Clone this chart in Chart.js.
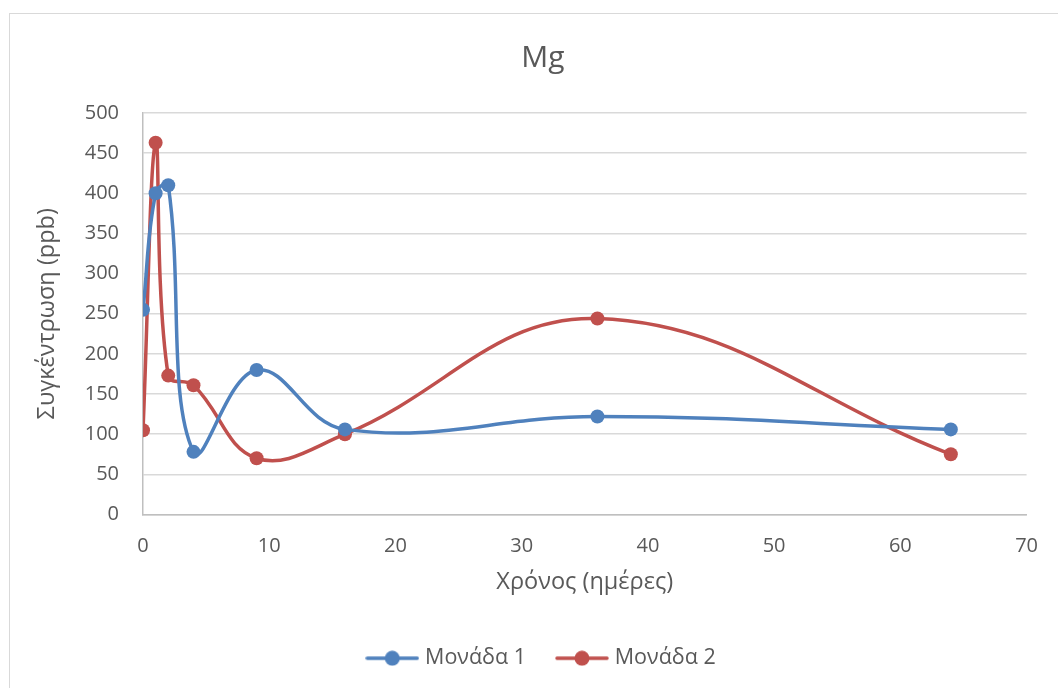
<!DOCTYPE html>
<html>
<head>
<meta charset="utf-8">
<script src="https://cdn.jsdelivr.net/npm/chart.js@4"></script>
<style>
  html, body { margin: 0; padding: 0; background: #fff; overflow: hidden; }
  #wrap { position: relative; width: 1058px; height: 688px; }
  #frame { position: absolute; left: 9px; top: 13px; width: 1200px; height: 900px; border: 1px solid #d9d9d9; }
  #wrap canvas { position: absolute; left: 0; top: 0; }
</style>
</head>
<body>
<div id="wrap">
  <div id="frame"></div>
  <canvas id="mgChart" width="1058" height="688"></canvas>
</div>
<script>
// sampling days and Mg concentration (ppb) for the two units
var days = [0, 1, 2, 4, 9, 16, 36, 64];
var unit1 = [255, 400, 410, 78, 180, 106, 122, 106];
var unit2 = [105, 463, 173, 161, 70, 100, 244, 75];
var seriesNames = ['Μονάδα 1', 'Μονάδα 2'];
var seriesColors = ['#4F81BD', '#C0504D'];
var xTicks = [0, 10, 20, 30, 40, 50, 60, 70];
var yTicks = [0, 50, 100, 150, 200, 250, 300, 350, 400, 450, 500];

var FONT = '"Open Sans", "Noto Sans", sans-serif';
var TEXT = '#595959';

function points(xs, ys) {
    return xs.map(function (x, i) { return { x: x, y: ys[i] }; });
}

// small line-with-marker swatch used in the legend
function swatch(color) {
    var c = document.createElement('canvas');
    c.width = 54;
    c.height = 16;
    var g = c.getContext('2d');
    g.strokeStyle = color;
    g.lineWidth = 3.5;
    g.lineCap = 'round';
    g.beginPath();
    g.moveTo(2, 8);
    g.lineTo(52, 8);
    g.stroke();
    g.fillStyle = color;
    g.beginPath();
    g.arc(27, 8, 7.5, 0, Math.PI * 2);
    g.fill();
    return c;
}
var swatches = seriesColors.map(swatch);

var series = [unit1, unit2].map(function (vals, i) {
    return {
        label: seriesNames[i],
        data: points(days, vals),
        showLine: true,
        borderColor: seriesColors[i],
        backgroundColor: seriesColors[i],
        borderWidth: 3.5,
        tension: 0.4,
        pointStyle: 'circle',
        pointRadius: 7,
        pointBorderWidth: 0
    };
});

var ctx = document.getElementById('mgChart').getContext('2d');
var chart = new Chart(ctx, {
    type: 'scatter',
    data: { datasets: series },
    options: {
        responsive: false,
        animation: false,
        layout: { padding: { left: 59, right: 31, top: 0, bottom: 9 } },
        plugins: {
            tooltip: { enabled: false },
            title: {
                display: true,
                text: 'Mg',
                color: TEXT,
                font: { family: FONT, size: 30, weight: 'normal' },
                padding: { top: 40, bottom: 37 }
            },
            legend: {
                position: 'bottom',
                maxHeight: 75,
                labels: {
                    color: TEXT,
                    font: { family: FONT, size: 21.5 },
                    usePointStyle: true,
                    pointStyleWidth: 44,
                    padding: 34,
                    generateLabels: function (c) {
                        return c.data.datasets.map(function (ds, i) {
                            return {
                                text: ds.label,
                                fillStyle: ds.borderColor,
                                strokeStyle: ds.borderColor,
                                fontColor: TEXT,
                                pointStyle: swatches[i],
                                lineWidth: 0,
                                datasetIndex: i
                            };
                        });
                    }
                }
            }
        },
        scales: {
            x: {
                type: 'linear',
                min: xTicks[0],
                max: xTicks[xTicks.length - 1],
                afterBuildTicks: function (s) {
                    s.ticks = xTicks.map(function (v) { return { value: v }; });
                },
                afterFit: function (s) { s.height = 99; },
                grid: { display: false, drawTicks: false },
                border: { display: true, color: '#bfbfbf', width: 1.5 },
                ticks: {
                    color: TEXT,
                    padding: 20,
                    maxRotation: 0,
                    font: { family: FONT, size: 20 }
                },
                title: {
                    display: true,
                    text: 'Χρόνος (ημέρες)',
                    color: TEXT,
                    font: { family: FONT, size: 23.5 },
                    padding: { top: 0, bottom: 17 }
                }
            },
            y: {
                min: yTicks[0],
                max: yTicks[yTicks.length - 1],
                afterBuildTicks: function (s) {
                    s.ticks = yTicks.map(function (v) { return { value: v }; });
                },
                afterFit: function (s) { s.width = 84; },
                grid: { color: '#d9d9d9', lineWidth: 1.5, drawTicks: false },
                border: { display: true, color: '#bfbfbf', width: 1.5 },
                ticks: {
                    color: TEXT,
                    padding: 24,
                    font: { family: FONT, size: 20 }
                },
                title: {
                    display: true,
                    text: 'Συγκέντρωση (ppb)',
                    color: TEXT,
                    font: { family: FONT, size: 23.5 },
                    padding: { top: -26, bottom: 0 }
                }
            }
        }
    }
});
</script>
</body>
</html>
